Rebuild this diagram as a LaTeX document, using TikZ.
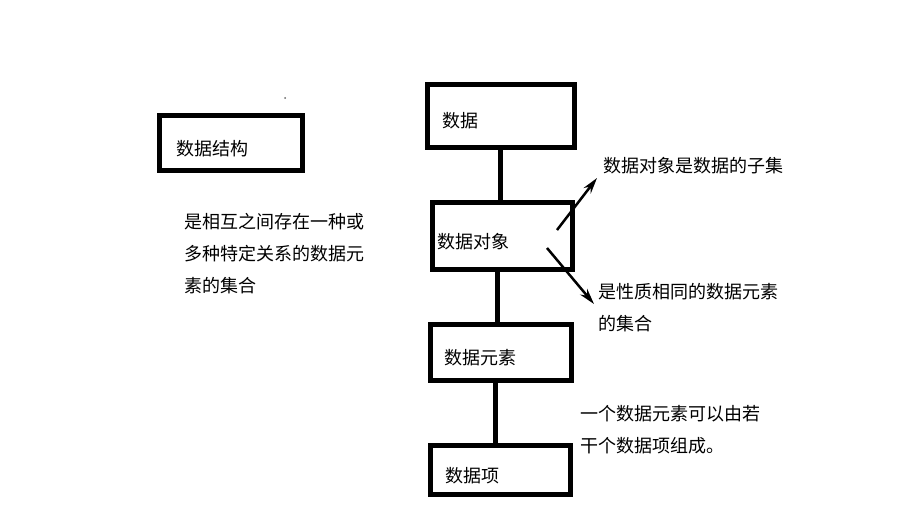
\documentclass[tikz,border=0pt]{standalone}
\usepackage{fontspec}
\usetikzlibrary{arrows.meta,calc,positioning}
\newfontfamily\cjk{Noto Sans CJK SC}
\definecolor{dsInk}{HTML}{000000}
\tikzset{
 dsmap/.style={font=\cjk\fontsize{18}{32}\selectfont,line cap=butt,text=dsInk},
 box/.style={rectangle,draw=dsInk,line width=5pt,align=left,inner ysep=0pt,
   text height=24pt,text depth=0pt},
 link/.style={draw=dsInk,line width=5pt},
 pointer/.style={draw=dsInk,line width=2.5pt,-{Stealth[length=16pt,width=9pt]}},
 note/.style={align=left,anchor=west,inner sep=0pt}
}

\begin{document}
\begin{tikzpicture}[dsmap,x=1pt,y=-1pt]
 \useasboundingbox (0,0) rectangle (902,524);
 % left part
 \node[box,minimum height=55,text width=110,inner xsep=16.5] (jiegou) at (231,143) {数据结构};
 \node[note] (jiegounote) at (184,254) {是相互之间存在一种或\\多种特定关系的数据元\\素的集合};
 \fill[dsInk!60] (285,98) circle (1);
 % chain of boxes
 \node[box,minimum height=63,text width=118,inner xsep=14.5] (shuju) at (501,116) {数据};
 \node[box,minimum height=67,text width=131,inner xsep=4.5] (duixiang) at (502.5,236) {数据对象};
 \node[box,minimum height=56,text width=114,inner xsep=13.5] (yuansu) at (501,352.5) {数据元素};
 \node[box,minimum height=49,text width=111,inner xsep=14.5] (xiang) at (500.5,470) {数据项};
 \draw[link] ([xshift=-1pt]shuju.south) -- ([xshift=-1pt]shuju.south |- duixiang.north);
 \draw[link] ([xshift=-5.5pt]duixiang.south) -- ([xshift=-5.5pt]duixiang.south |- yuansu.north);
 \draw[link] ([xshift=-6pt]yuansu.south) -- ([xshift=-6pt]yuansu.south |- xiang.north);
 % notes on the right
 \node[note] (ziji) at (603,166) {数据对象是数据的子集};
 \node[note] (xingzhi) at (598,308) {是性质相同的数据元素\\的集合};
 \node[note] (zucheng) at (580,429.5) {一个数据元素可以由若\\干个数据项组成。};
 \coordinate (zijistart) at (557,230);
 \coordinate (zijitip) at (597,178);
 \coordinate (xingzhistart) at (547,248);
 \coordinate (xingzhitip) at (594,304);
 \draw[pointer] (zijistart) -- (zijitip);
 \draw[pointer] (xingzhistart) -- (xingzhitip);
\end{tikzpicture}
\end{document}
